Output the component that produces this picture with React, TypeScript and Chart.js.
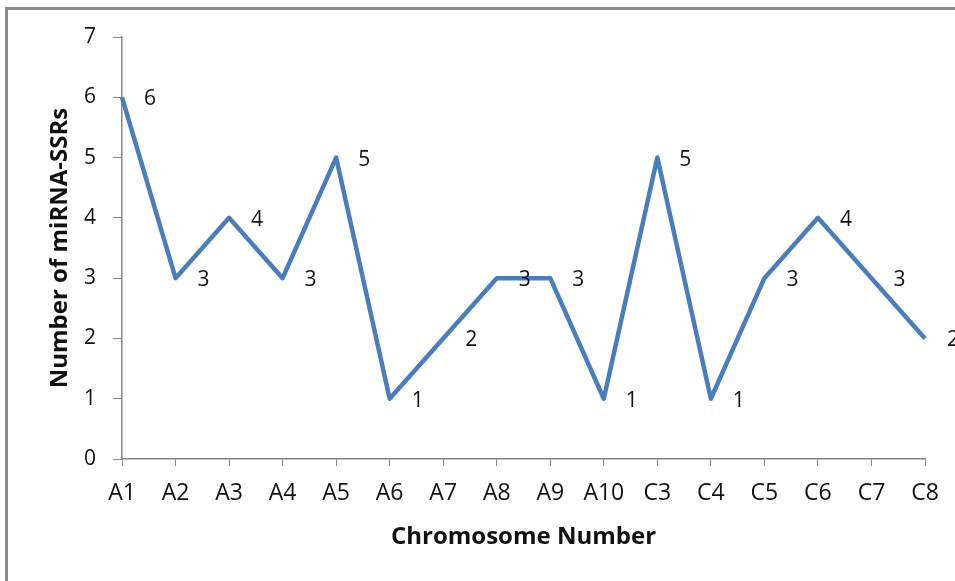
import { useEffect, useRef } from "react";
import { Chart, registerables } from "chart.js";

Chart.register(...registerables);

// Chromosomes on the x axis and the miRNA-SSR count found on each
const chromosomes = ["A1", "A2", "A3", "A4", "A5", "A6", "A7", "A8", "A9", "A10", "C3", "C4", "C5", "C6", "C7", "C8"];
const ssrCounts = [6, 3, 4, 3, 5, 1, 2, 3, 3, 1, 5, 1, 3, 4, 3, 2];
const yMin = 0;
const yMax = 7;
const yStep = 1;

const FONT = "'Open Sans', 'DejaVu Sans', sans-serif";
const AXIS_GREY = "#868686";
const LINE_BLUE = "#4A7EBB";
const TEXT = "#111111";

// White page with a grey frame along the top and left edges
const framePlugin = {
  id: "frame",
  beforeDraw(chart: Chart) {
    const { ctx, width, height } = chart;
    ctx.save();
    ctx.fillStyle = "#ffffff";
    ctx.fillRect(0, 0, width, height);
    ctx.fillStyle = "#8a8a8a";
    ctx.fillRect(5, 7, width - 5, 3);
    ctx.fillRect(5, 7, 3, height - 7);
    ctx.restore();
  },
};

// Value written beside each point, to the right and slightly below
const valueLabelPlugin = {
  id: "valueLabels",
  afterDatasetsDraw(chart: Chart) {
    const { ctx } = chart;
    const meta = chart.getDatasetMeta(0);
    const values = chart.data.datasets[0].data as number[];
    ctx.save();
    ctx.font = `21px ${FONT}`;
    ctx.fillStyle = TEXT;
    ctx.textAlign = "center";
    ctx.textBaseline = "middle";
    meta.data.forEach((pt: any, i: number) => {
      ctx.fillText(String(values[i]), pt.x + 28, pt.y + 2);
    });
    ctx.restore();
  },
};

export default function App() {
  const canvasRef = useRef<HTMLCanvasElement | null>(null);

  useEffect(() => {
    const canvas = canvasRef.current;
    if (!canvas) return;
    const chart = new Chart(canvas, {
      type: "line",
      data: {
        labels: chromosomes,
        datasets: [
          {
            data: ssrCounts,
            borderColor: LINE_BLUE,
            borderWidth: 4.5,
            pointRadius: 0,
            pointHoverRadius: 0,
            tension: 0,
            borderJoinStyle: "round",
            fill: false,
          },
        ],
      },
      options: {
        animation: false,
        responsive: false,
        events: [],
        layout: { padding: { top: 37, right: 30, bottom: 0, left: 0 } },
        plugins: {
          legend: { display: false },
          tooltip: { enabled: false },
        },
        scales: {
          x: {
            type: "category",
            offset: false,
            afterFit(scale: any) {
              scale.height = 122;
            },
            grid: {
              display: true,
              drawOnChartArea: false,
              drawTicks: true,
              tickLength: 7,
              color: AXIS_GREY,
              lineWidth: 1,
            },
            border: { display: true, color: AXIS_GREY, width: 1.5 },
            ticks: {
              font: { family: FONT, size: 23 },
              color: TEXT,
              padding: 14,
              maxRotation: 0,
              autoSkip: false,
            },
            title: {
              display: true,
              text: "Chromosome Number",
              font: { family: FONT, size: 24, weight: "bold" },
              color: TEXT,
              padding: { top: 0, bottom: 29 },
            },
          },
          y: {
            min: yMin,
            max: yMax,
            afterFit(scale: any) {
              scale.width = 122;
            },
            grid: {
              display: true,
              drawOnChartArea: false,
              drawTicks: true,
              tickLength: 9,
              color: AXIS_GREY,
              lineWidth: 1,
            },
            border: { display: true, color: AXIS_GREY, width: 1.5 },
            ticks: {
              stepSize: yStep,
              font: { family: FONT, size: 21 },
              color: TEXT,
              padding: 17,
            },
            title: {
              display: true,
              text: "Number of miRNA-SSRs",
              font: { family: FONT, size: 24, weight: "bold" },
              color: TEXT,
              padding: { top: 46, bottom: 0 },
            },
          },
        },
      },
      plugins: [framePlugin, valueLabelPlugin],
    });
    return () => chart.destroy();
  }, []);

  return (
    <div style={{ position: "fixed", left: 0, top: 0, width: 955, height: 581 }}>
      <canvas ref={canvasRef} width={955} height={581} style={{ display: "block" }} />
    </div>
  );
}
